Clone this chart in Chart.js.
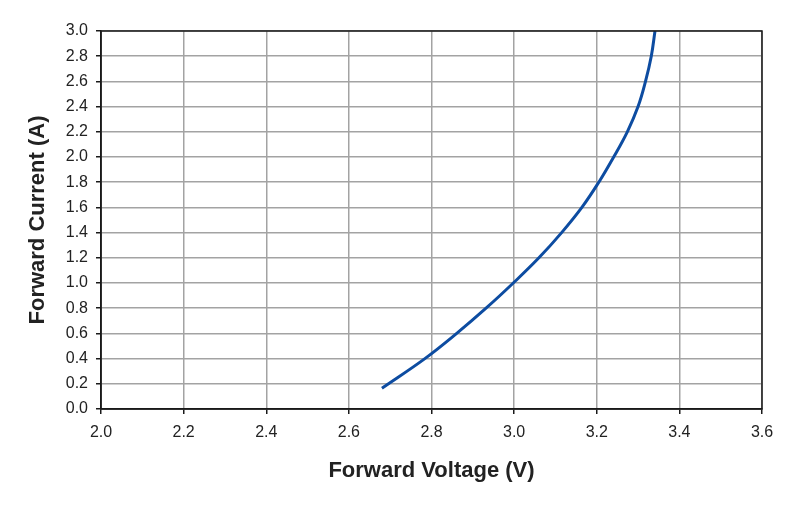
<!DOCTYPE html>
<html>
<head>
<meta charset="utf-8">
<script src="https://cdn.jsdelivr.net/npm/chart.js@4"></script>
<style>
  html, body { margin:0; padding:0; background:#fff; }
  #wrap { width:800px; height:507px; }
</style>
</head>
<body>
<div id="wrap"><canvas id="myChart" width="800" height="507"></canvas></div>
<script>
// forward voltage (V) vs forward current (A)
const voltage = [2.680, 2.784, 2.861, 2.932, 2.998, 3.060, 3.115, 3.164, 3.205, 3.241, 3.274, 3.300, 3.318, 3.332, 3.341];
const current = [0.165, 0.4, 0.6, 0.8, 1.0, 1.2, 1.4, 1.6, 1.8, 2.0, 2.2, 2.4, 2.6, 2.8, 3.0];

const xMin = 2.0, xMax = 3.6, xStep = 0.2;
const yMin = 0.0, yMax = 3.0, yStep = 0.2;

const points = voltage.map((v, i) => ({ x: v, y: current[i] }));

// black frame round the plot area
const frame = {
  id: 'frame',
  afterDraw(chart) {
    const a = chart.chartArea, c = chart.ctx;
    c.save();
    c.strokeStyle = '#1a1a1a';
    c.lineWidth = 1.5;
    c.strokeRect(a.left, a.top, a.right - a.left, a.bottom - a.top);
    c.restore();
  }
};

const ctx = document.getElementById('myChart').getContext('2d');
const myChart = new Chart(ctx, {
  type: 'line',
  data: {
    datasets: [{
      label: 'Forward Current',
      data: points,
      borderColor: '#0d4ca1',
      borderWidth: 3,
      pointRadius: 0,
      fill: false,
      tension: 0.4
    }]
  },
  options: {
    responsive: false,
    animation: false,
    layout: { padding: { left: 21, right: 38, top: 31, bottom: 23 } },
    plugins: { legend: { display: false }, tooltip: { enabled: false } },
    scales: {
      x: {
        type: 'linear',
        min: xMin, max: xMax,
        afterBuildTicks(scale) {
          scale.ticks = [];
          for (let v = xMin; v <= xMax + 1e-9; v += xStep) scale.ticks.push({ value: +v.toFixed(1) });
        },
        afterFit(scale) { scale.height = 507 - 409 - 23; },
        grid: { color: '#a3a3a3', lineWidth: 1.5, tickColor: '#1a1a1a', tickLength: 5 },
        border: { color: '#1a1a1a', width: 1.5 },
        ticks: {
          color: '#222', padding: 9,
          font: { family: 'Liberation Sans, Arial, sans-serif', size: 16 },
          callback: v => v.toFixed(1)
        },
        title: {
          display: true, text: 'Forward Voltage (V)', color: '#222',
          padding: { top: 0, bottom: 0 },
          font: { family: 'Liberation Sans, Arial, sans-serif', size: 22, weight: 'bold' }
        }
      },
      y: {
        min: yMin, max: yMax,
        afterBuildTicks(scale) {
          scale.ticks = [];
          for (let v = yMin; v <= yMax + 1e-9; v += yStep) scale.ticks.push({ value: +v.toFixed(1) });
        },
        afterFit(scale) { scale.width = 101 - 21; },
        grid: { color: '#a3a3a3', lineWidth: 1.5, tickColor: '#1a1a1a', tickLength: 5 },
        border: { color: '#1a1a1a', width: 1.5 },
        ticks: {
          color: '#222', padding: 8,
          font: { family: 'Liberation Sans, Arial, sans-serif', size: 16 },
          callback: v => v.toFixed(1)
        },
        title: {
          display: true, text: 'Forward Current (A)', color: '#222',
          padding: { top: 4, bottom: 0 },
          font: { family: 'Liberation Sans, Arial, sans-serif', size: 22, weight: 'bold' }
        }
      }
    }
  },
  plugins: [frame]
});
</script>
</body>
</html>
